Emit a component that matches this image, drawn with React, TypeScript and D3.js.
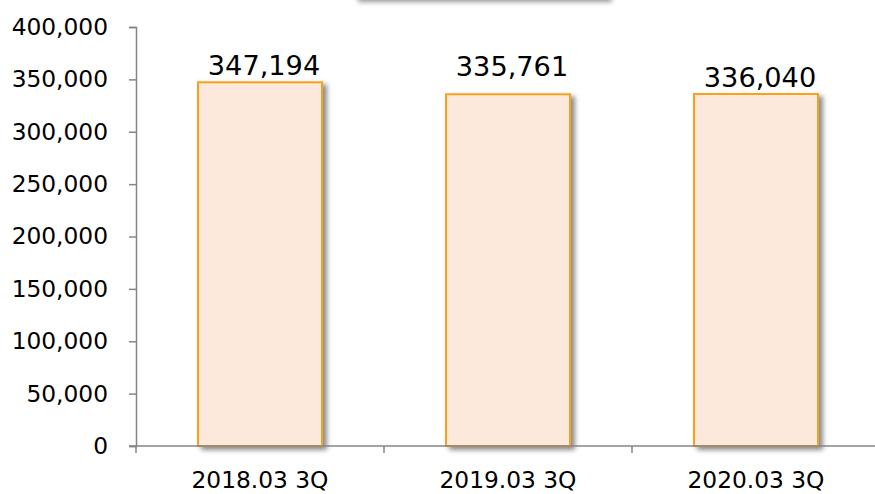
import { useEffect, useRef } from 'react';
import * as d3 from 'd3';

const categories = ['2018.03 3Q', '2019.03 3Q', '2020.03 3Q'];
const values = [347194, 335761, 336040];
const yTicks = [0, 50000, 100000, 150000, 200000, 250000, 300000, 350000, 400000];
// extra lift of each value label above its bar (Excel placed them unevenly)
const labelLift = [7, 18, 7];

const W = 875;
const H = 494;

const App = () => {
  const svgRef = useRef<SVGSVGElement>(null);

  useEffect(() => {
    const svg = d3.select(svgRef.current);
    svg.selectAll('*').remove();

    const margin = { top: 27, right: -5, bottom: 48, left: 136 };
    const plotW = W - margin.left - margin.right;
    const plotH = H - margin.top - margin.bottom;
    const font = 'DejaVu Sans, Verdana, sans-serif';

    const defs = svg.append('defs');
    const sh = defs.append('filter').attr('id', 'barShadow')
      .attr('x', '-20%').attr('y', '-20%').attr('width', '140%').attr('height', '140%');
    sh.append('feDropShadow').attr('dx', 4).attr('dy', 3).attr('stdDeviation', 2.5)
      .attr('flood-color', '#000').attr('flood-opacity', 0.45);

    const boxSh = defs.append('filter').attr('id', 'boxShadow')
      .attr('x', '-10%').attr('y', '-50%').attr('width', '120%').attr('height', '200%');
    boxSh.append('feDropShadow').attr('dx', 0).attr('dy', 2).attr('stdDeviation', 2.5)
      .attr('flood-color', '#000').attr('flood-opacity', 0.4);

    // title box cut off at top edge
    svg.append('rect')
      .attr('x', 358).attr('y', -40).attr('width', 254).attr('height', 40)
      .attr('fill', '#fff').attr('filter', 'url(#boxShadow)');

    const g = svg.append('g').attr('transform', `translate(${margin.left},${margin.top})`);

    const x = d3.scaleBand().domain(categories).range([0, plotW]).paddingInner(0).paddingOuter(0);
    const y = d3.scaleLinear().domain([0, 400000]).range([plotH, 0]);

    const axisColor = '#858585';

    // y axis
    const yAxis = g.append('g')
      .call(d3.axisLeft(y).tickValues(yTicks).tickSize(7).tickPadding(21)
        .tickFormat(d => d3.format(',')(d as number)));
    yAxis.select('.domain').attr('stroke', axisColor).attr('stroke-width', 1.5);
    yAxis.selectAll('.tick line').attr('stroke', axisColor).attr('stroke-width', 1.5);
    yAxis.selectAll('.tick text').attr('font-family', font).attr('font-size', 23.3).attr('fill', '#000');

    // bars
    const bw = x.bandwidth() * 0.5;
    g.selectAll('.bar')
      .data(values)
      .enter()
      .append('rect')
      .attr('class', 'bar')
      .attr('x', (d, i) => (x(categories[i]) as number) + (x.bandwidth() - bw) / 2)
      .attr('y', d => y(d))
      .attr('width', bw)
      .attr('height', d => plotH - y(d))
      .attr('fill', '#fce9dc')
      .attr('stroke', '#f7a11d')
      .attr('stroke-width', 2)
      .attr('filter', 'url(#barShadow)');

    // x axis
    const xAxisG = g.append('g').attr('transform', `translate(0,${plotH})`);
    xAxisG.append('line')
      .attr('x1', -7).attr('x2', plotW).attr('y1', 0).attr('y2', 0)
      .attr('stroke', axisColor).attr('stroke-width', 1.5);
    xAxisG.selectAll('.xtick')
      .data(d3.range(categories.length + 1))
      .enter()
      .append('line')
      .attr('x1', i => i * x.step()).attr('x2', i => i * x.step())
      .attr('y1', 0).attr('y2', 7)
      .attr('stroke', axisColor).attr('stroke-width', 1.5);
    xAxisG.selectAll('.xlabel')
      .data(categories)
      .enter()
      .append('text')
      .attr('x', d => (x(d) as number) + x.bandwidth() / 2)
      .attr('y', 42)
      .attr('text-anchor', 'middle')
      .attr('font-family', font)
      .attr('font-size', 23.3)
      .attr('fill', '#000')
      .text(d => d);

    // value labels
    g.selectAll('.vlabel')
      .data(values)
      .enter()
      .append('text')
      .attr('x', (d, i) => (x(categories[i]) as number) + x.bandwidth() / 2 + 4)
      .attr('y', (d, i) => y(d) - labelLift[i])
      .attr('text-anchor', 'middle')
      .attr('font-family', font)
      .attr('font-size', 27.2)
      .attr('fill', '#000')
      .text(d => d3.format(',')(d));
  }, []);

  return (
    <svg
      ref={svgRef}
      width={W}
      height={H}
      style={{ position: 'absolute', left: 0, top: 0, background: '#fff' }}
    />
  );
};

export default App;
